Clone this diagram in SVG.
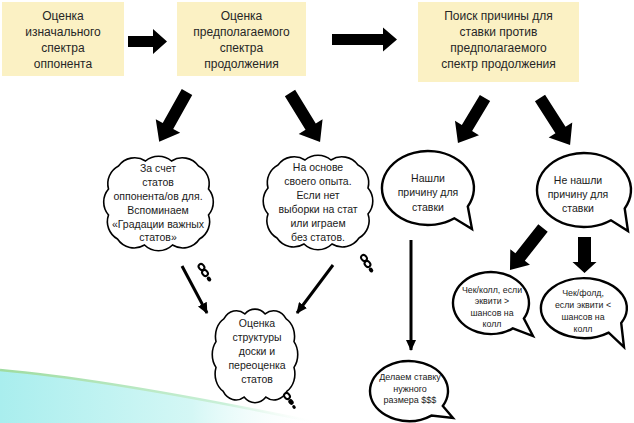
<svg xmlns="http://www.w3.org/2000/svg" width="634" height="423" viewBox="0 0 634 423">
<defs>
<style>
.box{fill:#FBF1C4;}
.bt{font-family:"Liberation Sans",Arial,sans-serif;font-size:12px;fill:#262626;text-anchor:middle;}
.ct{font-family:"Liberation Sans",Arial,sans-serif;font-size:10.5px;fill:#1a1a1a;text-anchor:middle;}
.st{font-family:"Liberation Sans",Arial,sans-serif;font-size:10.5px;fill:#1a1a1a;text-anchor:middle;}
.sm{font-family:"Liberation Sans",Arial,sans-serif;font-size:8.8px;fill:#1a1a1a;text-anchor:middle;}
.xs{font-family:"Liberation Sans",Arial,sans-serif;font-size:9px;fill:#1a1a1a;text-anchor:middle;}
.cloud{fill:#fff;stroke:#000;stroke-width:1.6;}
.bub{fill:#fff;stroke:#000;stroke-width:2.4;stroke-linejoin:miter;}
.blk{fill:#000;}
.thin{stroke:#000;stroke-width:3;fill:none;}
.ring{fill:#fff;stroke:#000;stroke-width:2;}
</style>
<path id="cloudShape" vector-effect="non-scaling-stroke" d="M-13,-42 A20,20 0 0 1 13,-42 A20,20 0 0 1 40,-37 A20,20 0 0 1 50,-14 A20,20 0 0 1 50,12 A20,20 0 0 1 41,36 A20,20 0 0 1 14,42 A20,20 0 0 1 -14,42 A20,20 0 0 1 -41,36 A20,20 0 0 1 -50,12 A20,20 0 0 1 -50,-14 A20,20 0 0 1 -40,-37 A20,20 0 0 1 -13,-42 Z"/>
<marker id="ah" markerUnits="userSpaceOnUse" markerWidth="12" markerHeight="10" refX="10" refY="5" orient="auto">
<path d="M0,0 L11,5 L0,10 Z" fill="#000"/>
</marker>
<linearGradient id="sw" x1="0" y1="0" x2="1" y2="0">
<stop offset="0" stop-color="#a9eeee"/>
<stop offset="0.6" stop-color="#d4f7f5"/>
<stop offset="1" stop-color="#ffffff" stop-opacity="0"/>
</linearGradient>
<linearGradient id="swl" x1="0" y1="0" x2="1" y2="0">
<stop offset="0" stop-color="#9fdca0"/>
<stop offset="0.7" stop-color="#c9f0d8"/>
<stop offset="1" stop-color="#ffffff" stop-opacity="0"/>
</linearGradient>
</defs>
<rect width="634" height="423" fill="#fff"/>
<path d="M0,370 C90,378 200,398 320,423 L0,423 Z" fill="url(#sw)"/>
<path d="M0,370 C90,378 200,398 320,423" fill="none" stroke="url(#swl)" stroke-width="2.5"/>

<g id="connectors">
<path class="blk" transform="translate(128,41.5)" d="M0,-5.5 H25 V-12.5 L39,0 L25,12.5 V5.5 H0 Z"/>
<path class="blk" transform="translate(332,39.5)" d="M0,-5.5 H51 V-12 L65,0 L51,12 V5.5 H0 Z"/>
<path class="blk" transform="translate(187,92) rotate(119.2)" d="M0,-6 H39 V-14 L57,0 L39,14 V6 H0 Z"/>
<path class="blk" transform="translate(290,93) rotate(58.5)" d="M0,-6 H39.5 V-14 L57.5,0 L39.5,14 V6 H0 Z"/>
<path class="blk" transform="translate(485,98) rotate(121)" d="M0,-6 H35 V-14 L52.5,0 L35,14 V6 H0 Z"/>
<path class="blk" transform="translate(540,98) rotate(57.4)" d="M0,-6 H38 V-14 L55.8,0 L38,14 V6 H0 Z"/>
<path class="blk" transform="translate(543,228) rotate(128.2)" d="M0,-6 H37 V-12.5 L53.4,0 L37,12.5 V6 H0 Z"/>
<path class="blk" transform="translate(584.5,237) rotate(90)" d="M0,-6.5 H25 V-12 L36,0 L25,12 V6.5 H0 Z"/>
<line class="thin" x1="182" y1="266" x2="207" y2="313" marker-end="url(#ah)"/>
<line class="thin" x1="333" y1="265" x2="297" y2="313" marker-end="url(#ah)"/>
<line class="thin" x1="411" y1="240" x2="411" y2="350" stroke-width="2.5" marker-end="url(#ah)"/>
</g>

<g id="box1">
<rect class="box" x="2" y="2" width="122" height="74"/>
<text class="bt" x="63" y="20">Оценка</text>
<text class="bt" x="63" y="36">изначального</text>
<text class="bt" x="63" y="52">спектра</text>
<text class="bt" x="63" y="68">оппонента</text>
</g>
<g id="box2">
<rect class="box" x="177" y="2" width="129" height="74"/>
<text class="bt" x="241.5" y="20">Оценка</text>
<text class="bt" x="241.5" y="36">предполагаемого</text>
<text class="bt" x="241.5" y="52">спектра</text>
<text class="bt" x="241.5" y="68">продолжения</text>
</g>
<g id="box3">
<rect class="box" x="418" y="2" width="161" height="80"/>
<text class="bt" x="498.5" y="20">Поиск причины для</text>
<text class="bt" x="498.5" y="36">ставки против</text>
<text class="bt" x="498.5" y="52">предполагаемого</text>
<text class="bt" x="498.5" y="68">спектр продолжения</text>
</g>

<g id="cloud1">
<use href="#cloudShape" class="cloud" transform="translate(158.5,203) scale(1.0,1.0)"/>
<text class="ct" x="158" y="172">За счет</text>
<text class="ct" x="158" y="186">статов</text>
<text class="ct" x="158" y="200">оппонента/ов для.</text>
<text class="ct" x="158" y="214">Вспоминаем</text>
<text class="ct" x="158" y="228">«Градации важных</text>
<text class="ct" x="158" y="241">статов»</text>
<ellipse class="ring" cx="201.5" cy="267" rx="2.6" ry="3.2" transform="rotate(-40 201.5 267)"/>
<ellipse class="ring" cx="205" cy="273" rx="2.6" ry="3.2" transform="rotate(-40 205 273)"/>
<ellipse cx="209" cy="279" rx="2" ry="2.6" fill="#000" transform="rotate(-40 209 279)"/>
</g>
<g id="cloud2">
<use href="#cloudShape" class="cloud" transform="translate(318,202) scale(1.0,1.0)"/>
<text class="ct" x="318" y="171">На основе</text>
<text class="ct" x="318" y="185">своего опыта.</text>
<text class="ct" x="318" y="199">Если нет</text>
<text class="ct" x="318" y="213">выборки на стат</text>
<text class="ct" x="318" y="227">или играем</text>
<text class="ct" x="318" y="241">без статов.</text>
<ellipse class="ring" cx="364" cy="258" rx="2.6" ry="3.2" transform="rotate(-40 364 258)"/>
<ellipse class="ring" cx="367.5" cy="264" rx="2.6" ry="3.2" transform="rotate(-40 367.5 264)"/>
<ellipse cx="371" cy="270" rx="2" ry="2.6" fill="#000" transform="rotate(-40 371 270)"/>
</g>
<g id="cloud3">
<use href="#cloudShape" class="cloud" transform="translate(255,355.5) scale(0.78,0.99)"/>
<text class="ct" x="257" y="327">Оценка</text>
<text class="ct" x="257" y="341">структуры</text>
<text class="ct" x="257" y="355">доски и</text>
<text class="ct" x="257" y="369">переоценка</text>
<text class="ct" x="257" y="383">статов</text>
<ellipse class="ring" cx="287" cy="396" rx="2.6" ry="3.2" transform="rotate(-40 287 396)"/>
<ellipse cx="291" cy="402" rx="2.4" ry="3" fill="#000" transform="rotate(-40 291 402)"/>
<ellipse cx="294" cy="407" rx="1.6" ry="2" fill="#000" transform="rotate(-40 294 407)"/>
</g>

<g id="bubbleA">
<path class="bub" d="M454.4,218.3 A46,37 0 1 1 467.8,206.5 L472,229 Z"/>
<text class="st" x="428" y="182">Нашли</text>
<text class="st" x="428" y="196">причину для</text>
<text class="st" x="428" y="211">ставки</text>
</g>
<g id="bubbleB">
<path class="bub" d="M611,220.3 A47,37 0 1 1 624.7,208.5 L628,231 Z"/>
<text class="st" x="578" y="184">Не нашли</text>
<text class="st" x="578" y="198">причину для</text>
<text class="st" x="578" y="212">ставки</text>
</g>
<g id="bubbleC">
<path class="bub" d="M512.8,328.4 A38,31 0 1 1 523.9,318.5 L533,336 Z"/>
<text class="sm" x="492" y="292.5">Чек/колл, если</text>
<text class="sm" x="492" y="304">эквити &gt;</text>
<text class="sm" x="492" y="315.5">шансов на</text>
<text class="sm" x="492" y="327">колл</text>
</g>
<g id="bubbleD">
<path class="bub" d="M608.7,332.6 A43,30 0 1 1 621.2,323 L624,347 Z"/>
<text class="sm" x="583" y="295.5">Чек/фолд,</text>
<text class="sm" x="583" y="307.5">если эквити &lt;</text>
<text class="sm" x="583" y="319.5">шансов на</text>
<text class="sm" x="583" y="331.5">колл</text>
</g>
<g id="bubbleE">
<path class="bub" d="M431.4,415.6 A39,30 0 1 1 442.8,406 L453,418 Z"/>
<text class="xs" x="410" y="380">Делаем ставку</text>
<text class="xs" x="410" y="391.5">нужного</text>
<text class="xs" x="410" y="403">размера $$$</text>
</g>
</svg>
